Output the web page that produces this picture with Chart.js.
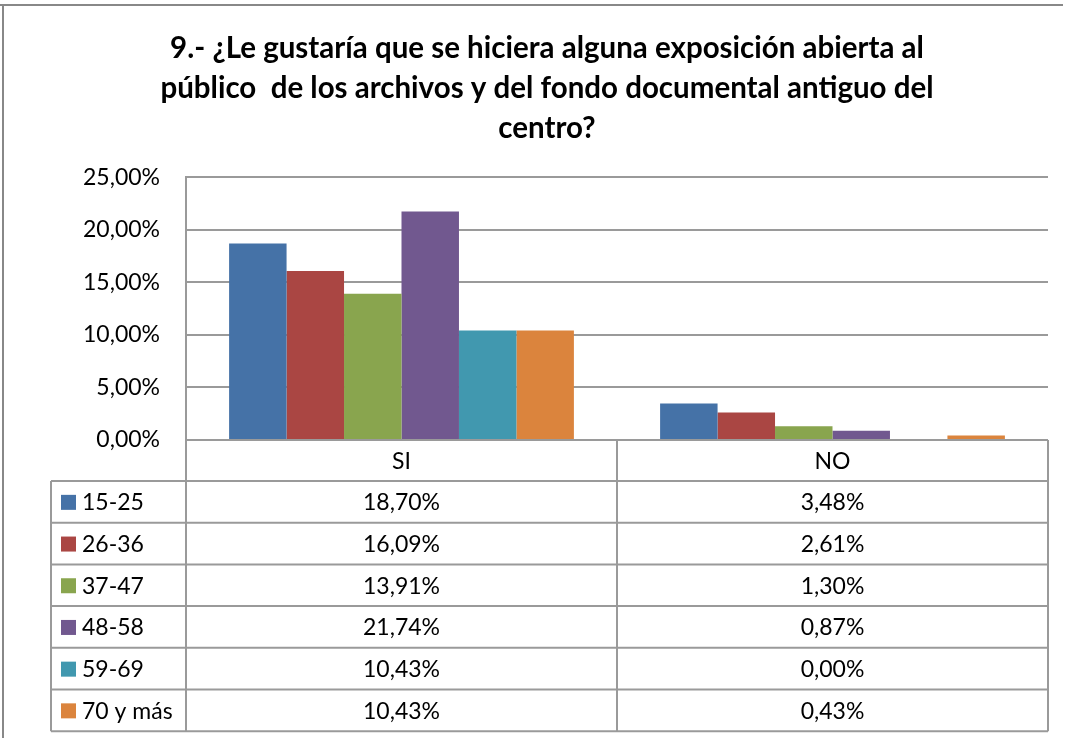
<!DOCTYPE html>
<html>
<head>
<meta charset="utf-8">
<script src="https://cdn.jsdelivr.net/npm/chart.js@4.4.0/dist/chart.umd.min.js"></script>
<style>
html, body { margin: 0; padding: 0; background: #fff; }
#wrap { width: 1065px; height: 738px; }
</style>
</head>
<body>
<div id="wrap"><canvas id="myChart" width="1065" height="738"></canvas></div>
<script>
// data
var categories = ['SI', 'NO'];
var groups = ['15-25', '26-36', '37-47', '48-58', '59-69', '70 y más'];
var g15_25 = [18.70, 3.48];
var g26_36 = [16.09, 2.61];
var g37_47 = [13.91, 1.30];
var g48_58 = [21.74, 0.87];
var g59_69 = [10.43, 0.00];
var g70mas = [10.43, 0.43];
var yTicks = [0, 5, 10, 15, 20, 25];
var titleLines = [
    '9.- ¿Le gustaría que se hiciera alguna exposición abierta al',
    'público  de los archivos y del fondo documental antiguo del',
    'centro?'
];

var seriesValues = [g15_25, g26_36, g37_47, g48_58, g59_69, g70mas];
var colors = ['#4572A7', '#AA4643', '#89A54E', '#71588F', '#4198AF', '#DB843D'];
var fontFam = 'Lato, "Open Sans", sans-serif';
var lineGray = '#9a9a9a';

function pct(v) {
    return v.toFixed(2).replace('.', ',') + '%';
}

var datasets = groups.map(function (g, i) {
    return {
        label: g,
        data: seriesValues[i],
        backgroundColor: colors[i],
        borderWidth: 0
    };
});

// data table under the plot + outer frame
var tablePlugin = {
    id: 'datatable',
    afterDraw: function (chart) {
        var ctx = chart.ctx;
        var area = chart.chartArea;
        var xs = chart.scales.x;
        var left = 51, headH = 41, rowH = 41.7;
        var top = area.bottom;
        var mid = (xs.getPixelForValue(0) + xs.getPixelForValue(1)) / 2;
        var bottom = top + headH + rowH * groups.length;

        ctx.save();
        ctx.strokeStyle = lineGray;
        ctx.lineWidth = 2;
        ctx.beginPath();
        // header row
        ctx.moveTo(area.left, top); ctx.lineTo(area.right, top);
        ctx.moveTo(area.left, top); ctx.lineTo(area.left, bottom);
        ctx.moveTo(mid, top); ctx.lineTo(mid, bottom);
        ctx.moveTo(area.right, top); ctx.lineTo(area.right, bottom);
        ctx.moveTo(left, top + headH); ctx.lineTo(left, bottom);
        for (var r = 0; r <= groups.length; r++) {
            var y = top + headH + r * rowH;
            ctx.moveTo(left, y); ctx.lineTo(area.right, y);
        }
        ctx.stroke();

        ctx.fillStyle = '#000';
        ctx.font = '23px ' + fontFam;
        ctx.textAlign = 'center';
        ctx.textBaseline = 'middle';
        categories.forEach(function (c, j) {
            ctx.fillText(c, xs.getPixelForValue(j), top + headH / 2 + 1);
        });
        groups.forEach(function (g, i) {
            var cy = top + headH + i * rowH + rowH / 2 + 1;
            ctx.fillStyle = colors[i];
            ctx.fillRect(61, cy - 8, 15, 15);
            ctx.fillStyle = '#000';
            ctx.textAlign = 'left';
            ctx.fillText(g, 82, cy);
            ctx.textAlign = 'center';
            seriesValues[i].forEach(function (v, j) {
                ctx.fillText(pct(v), xs.getPixelForValue(j), cy);
            });
        });

        // outer frame of the chart object
        ctx.strokeStyle = '#888';
        ctx.lineWidth = 2;
        ctx.beginPath();
        ctx.moveTo(0, 5); ctx.lineTo(1063, 5);
        ctx.moveTo(3, 5); ctx.lineTo(3, 738);
        ctx.stroke();
        ctx.restore();
    }
};

var ctx = document.getElementById('myChart').getContext('2d');
var myChart = new Chart(ctx, {
    type: 'bar',
    data: {
        labels: categories,
        datasets: datasets
    },
    options: {
        responsive: false,
        animation: false,
        layout: {
            padding: { left: 46, right: 17, top: 0, bottom: 298 }
        },
        datasets: {
            bar: { categoryPercentage: 0.8, barPercentage: 1 }
        },
        scales: {
            x: {
                display: false
            },
            y: {
                min: 0,
                max: 25,
                afterBuildTicks: function (scale) {
                    scale.ticks = yTicks.map(function (v) { return { value: v }; });
                },
                afterFit: function (scale) {
                    scale.width = 140;
                },
                grid: {
                    color: lineGray,
                    lineWidth: 2,
                    drawTicks: false
                },
                border: { display: true, color: lineGray, width: 2 },
                ticks: {
                    padding: 26,
                    color: '#000',
                    font: { family: fontFam, size: 23 },
                    callback: function (v) { return pct(v); }
                }
            }
        },
        plugins: {
            legend: { display: false },
            tooltip: { enabled: false },
            title: {
                display: true,
                text: titleLines,
                color: '#000',
                font: { family: fontFam, size: 29.5, weight: 'bold', lineHeight: 1.36 },
                padding: { top: 28, bottom: 29 }
            }
        }
    },
    plugins: [tablePlugin]
});
</script>
</body>
</html>
